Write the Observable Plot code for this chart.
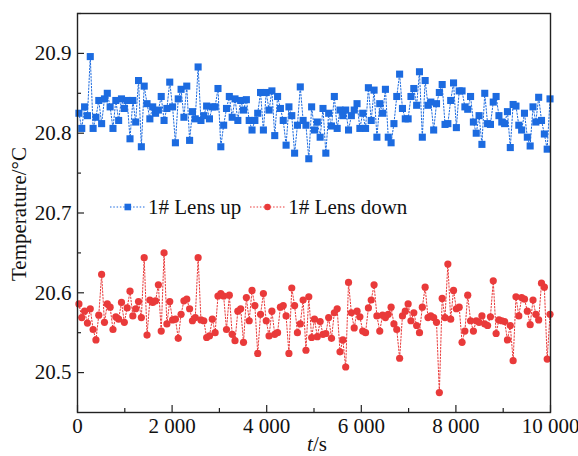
<!DOCTYPE html>
<html><head><meta charset="utf-8">
<script src="https://cdn.jsdelivr.net/npm/d3@7"></script>
<script src="https://cdn.jsdelivr.net/npm/@observablehq/plot@0.6"></script>
<style>
body{margin:0;background:#fff;}
#wrap{position:relative;width:578px;height:456px;overflow:hidden;font-family:"Liberation Serif","Times New Roman",serif;}
#legend{position:absolute;left:110px;top:195px;height:24px;display:flex;align-items:center;font-size:21px;line-height:24px;color:#111;white-space:nowrap;}
#legend svg{display:block;}
#legend span{margin-left:3px;}
</style></head><body>
<div id="wrap"></div>
<script>
const times = [
30,90,150,210,270,330,390,450,510,570,
630,690,750,810,870,930,990,1050,1110,1170,
1230,1290,1350,1410,1470,1530,1590,1650,1710,1770,
1830,1890,1950,2010,2070,2130,2190,2250,2310,2370,
2430,2490,2550,2610,2670,2730,2790,2850,2910,2970,
3030,3090,3150,3210,3270,3330,3390,3450,3510,3570,
3630,3690,3750,3810,3870,3930,3990,4050,4110,4170,
4230,4290,4350,4410,4470,4530,4590,4650,4710,4770,
4830,4890,4950,5010,5070,5130,5190,5250,5310,5370,
5430,5490,5550,5610,5670,5730,5790,5850,5910,5970,
6030,6090,6150,6210,6270,6330,6390,6450,6510,6570,
6630,6690,6750,6810,6870,6930,6990,7050,7110,7170,
7230,7290,7350,7410,7470,7530,7590,7650,7710,7770,
7830,7890,7950,8010,8070,8130,8190,8250,8310,8370,
8430,8490,8550,8610,8670,8730,8790,8850,8910,8970,
9030,9090,9150,9210,9270,9330,9390,9450,9510,9570,
9630,9690,9750,9810,9870,9930,9990];

const lensUp = [
20.825,20.806,20.833,20.822,20.896,20.806,20.820,20.841,20.812,20.843,
20.850,20.833,20.806,20.841,20.816,20.843,20.831,20.841,20.793,20.841,
20.814,20.866,20.783,20.859,20.837,20.818,20.833,20.825,20.829,20.846,
20.816,20.831,20.864,20.833,20.788,20.843,20.855,20.820,20.859,20.791,
20.827,20.818,20.883,20.816,20.822,20.834,20.818,20.833,20.833,20.856,
20.783,20.810,20.831,20.846,20.820,20.843,20.816,20.841,20.829,20.842,
20.816,20.804,20.816,20.825,20.851,20.804,20.851,20.829,20.853,20.797,
20.846,20.831,20.816,20.785,20.833,20.822,20.775,20.810,20.858,20.816,
20.810,20.768,20.833,20.804,20.814,20.795,20.831,20.775,20.825,20.809,
20.846,20.806,20.829,20.822,20.829,20.804,20.822,20.829,20.837,20.806,
20.825,20.806,20.857,20.816,20.854,20.795,20.837,20.825,20.855,20.795,
20.788,20.812,20.846,20.874,20.831,20.818,20.818,20.846,20.856,20.835,
20.877,20.795,20.866,20.835,20.839,20.804,20.837,20.851,20.861,20.811,
20.812,20.841,20.863,20.807,20.853,20.853,20.833,20.830,20.846,20.814,
20.800,20.822,20.786,20.850,20.812,20.811,20.839,20.846,20.822,20.814,
20.812,20.827,20.782,20.836,20.834,20.810,20.804,20.825,20.795,20.784,
20.833,20.814,20.845,20.816,20.799,20.780,20.843];

const lensDown = [
20.586,20.569,20.577,20.562,20.580,20.554,20.541,20.572,20.623,20.563,
20.586,20.582,20.554,20.570,20.567,20.588,20.563,20.581,20.602,20.571,
20.580,20.589,20.569,20.644,20.547,20.591,20.588,20.590,20.610,20.552,
20.650,20.561,20.589,20.566,20.567,20.543,20.573,20.590,20.592,20.580,
20.565,20.569,20.644,20.566,20.565,20.544,20.546,20.567,20.550,20.596,
20.599,20.596,20.554,20.597,20.548,20.540,20.577,20.580,20.538,20.594,
20.565,20.603,20.584,20.524,20.573,20.599,20.565,20.546,20.577,20.548,
20.550,20.582,20.584,20.571,20.524,20.606,20.584,20.550,20.561,20.591,
20.528,20.595,20.544,20.567,20.545,20.564,20.548,20.549,20.569,20.543,
20.575,20.580,20.526,20.541,20.507,20.613,20.575,20.556,20.577,20.570,
20.552,20.550,20.581,20.591,20.610,20.571,20.552,20.572,20.569,20.573,
20.582,20.561,20.554,20.518,20.571,20.577,20.586,20.565,20.575,20.559,
20.550,20.582,20.607,20.569,20.571,20.569,20.563,20.475,20.593,20.569,
20.636,20.567,20.603,20.580,20.582,20.538,20.552,20.597,20.565,20.552,
20.565,20.563,20.571,20.561,20.559,20.570,20.615,20.549,20.566,20.565,
20.564,20.541,20.559,20.515,20.595,20.571,20.594,20.592,20.577,20.560,
20.591,20.573,20.566,20.612,20.607,20.517,20.573];

const seriesNames = ["1# Lens up", "1# Lens down"];
const xTicks = [0, 2000, 4000, 6000, 8000, 10000];
const xMinorTicks = [1000, 3000, 5000, 7000, 9000];
const yTicks = [20.5, 20.6, 20.7, 20.8, 20.9];
const yMinorTicks = [20.55, 20.65, 20.75, 20.85, 20.95];
const xLabelVar = "t";
const xLabelUnit = "/s";
const yLabel = "Temperature/°C";

const blue = "#1c6be0", red = "#e93a3a";
const up = times.map((t, i) => ({t, v: lensUp[i]}));
const down = times.map((t, i) => ({t, v: lensDown[i]}));
const fmtX = d => d3.format(",")(d).replace(/,/g, " ");

const chart = Plot.plot({
  width: 578, height: 456,
  marginLeft: 77, marginRight: 28, marginTop: 13, marginBottom: 44,
  style: {fontFamily: '"Liberation Serif","Times New Roman",serif', fontSize: "21px", color: "#111", background: "#fff"},
  x: {domain: [0, 10000]},
  y: {domain: [20.45, 20.95]},
  marks: [
    Plot.line(up, {x: "t", y: "v", stroke: blue, strokeWidth: 1, strokeDasharray: "1.5,1.8"}),
    Plot.dot(up, {x: "t", y: "v", symbol: "square", r: 4, fill: blue}),
    Plot.line(down, {x: "t", y: "v", stroke: red, strokeWidth: 1, strokeDasharray: "1.5,1.8"}),
    Plot.dot(down, {x: "t", y: "v", r: 3.6, fill: red}),
    Plot.axisX({ticks: xTicks, tickSize: -7, tickPadding: 13, tickFormat: fmtX, fontSize: 21, label: null, strokeWidth: 1.2, stroke: "#222", fill: "#111"}),
    Plot.axisX({ticks: xMinorTicks, tickSize: -4, text: null, label: null, strokeWidth: 1.2, stroke: "#222"}),
    Plot.axisY({ticks: yTicks, tickSize: -7, tickPadding: 13, tickFormat: d => d.toFixed(1), fontSize: 21, label: null, strokeWidth: 1.2, stroke: "#222", fill: "#111"}),
    Plot.axisY({ticks: yMinorTicks, tickSize: -4, text: null, label: null, strokeWidth: 1.2, stroke: "#222"}),
    Plot.frame({stroke: "#222", strokeWidth: 1.4})
  ]
});

const svg = d3.select(chart);
svg.append("text")
  .attr("transform", "translate(19,214) rotate(-90)")
  .attr("text-anchor", "middle").attr("dominant-baseline", "central")
  .attr("font-size", 21).attr("fill", "#111")
  .text(yLabel);
const xl = svg.append("text").attr("x", 317).attr("y", 451)
  .attr("text-anchor", "middle").attr("font-size", 21).attr("fill", "#111");
xl.append("tspan").attr("font-style", "italic").text(xLabelVar);
xl.append("tspan").text(xLabelUnit);

const wrap = document.getElementById("wrap");
wrap.appendChild(chart);

const legend = document.createElement("div");
legend.id = "legend";
const items = [
  {name: seriesNames[0], color: blue, shape: "square"},
  {name: seriesNames[1], color: red, shape: "circle"}
];
legend.innerHTML = items.map((it, i) => {
  const marker = it.shape === "square"
    ? `<rect x="14.5" y="6.7" width="6.6" height="6.6" fill="${it.color}"/>`
    : `<circle cx="17.5" cy="10" r="3.3" fill="${it.color}"/>`;
  return `<svg width="35" height="20" style="margin-left:${i ? 9 : 0}px"><line x1="0" x2="35" y1="10" y2="10" stroke="${it.color}" stroke-width="1" stroke-dasharray="1.5,1.8"/>${marker}</svg><span>${it.name}</span>`;
}).join("");
wrap.appendChild(legend);
</script>
</body></html>
